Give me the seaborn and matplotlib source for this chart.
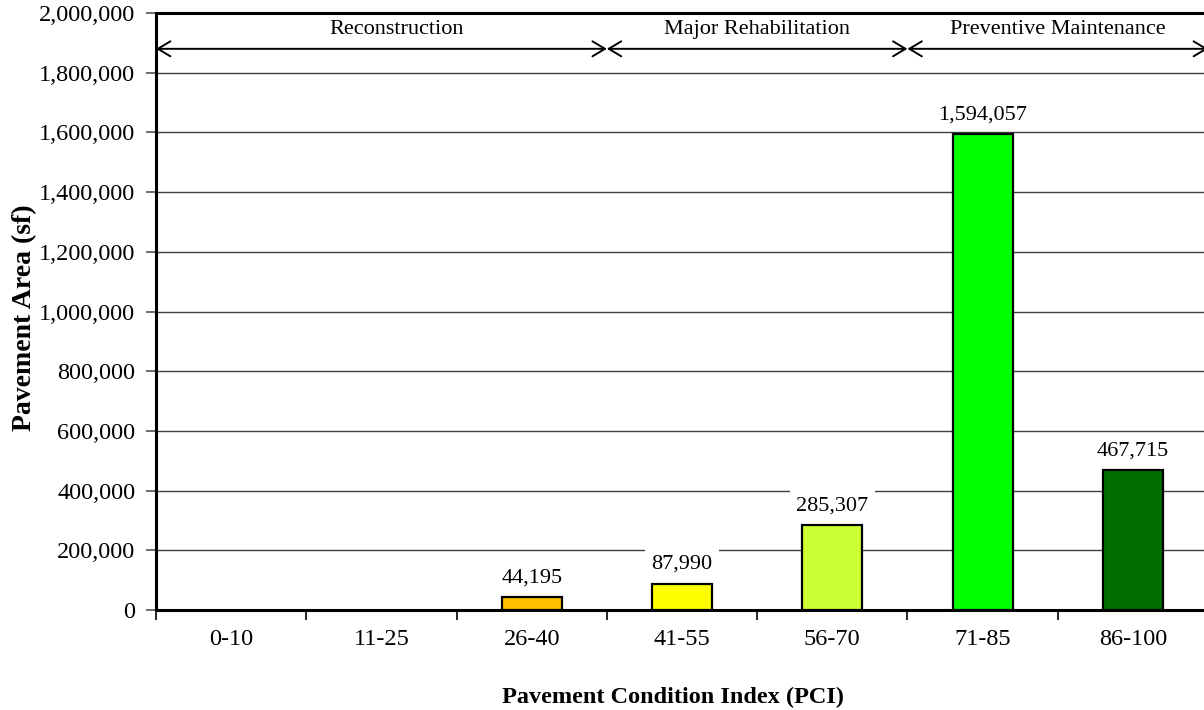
import matplotlib
matplotlib.use("Agg")
import matplotlib.pyplot as plt
import seaborn as sns

# PCI bins and pavement area per bin
categories = ["0-10", "11-25", "26-40", "41-55", "56-70", "71-85", "86-100"]
area_sf = [0, 0, 44195, 87990, 285307, 1594057, 467715]
bar_colors = ["#FF0000", "#FF6600", "#FFC000", "#FFFF00", "#CCFF33", "#00FF00", "#006F00"]

# Treatment bands across PCI bins: (label, first bin index, last bin index)
band_labels = ["Reconstruction", "Major Rehabilitation", "Preventive Maintenance"]
band_first = [0, 3, 5]
band_last = [2, 4, 6]
band_arrow_y = 1880000
band_text_y = 1945000

y_ticks = list(range(0, 2000001, 200000))

sns.set_theme(style="white")
plt.rcParams["font.family"] = ["Liberation Serif", "DejaVu Serif"]
plt.rcParams["text.color"] = "black"
plt.rcParams["axes.labelcolor"] = "black"
plt.rcParams["xtick.color"] = "black"
plt.rcParams["ytick.color"] = "black"

fig = plt.figure(figsize=(12.04, 7.10), dpi=100)
ax = fig.add_axes([156 / 1204, 1 - 610 / 710, 1052 / 1204, 597 / 710])

sns.barplot(x=categories, y=area_sf, hue=categories, palette=bar_colors,
            saturation=1, width=0.4, edgecolor="black", linewidth=1.6,
            legend=False, ax=ax, zorder=3)

# Empty bins have no visible bar
for patch, v in zip(ax.patches, area_sf):
    if v == 0:
        patch.set_visible(False)

ax.set_xlim(-0.5, len(categories) - 0.5)
ax.set_ylim(0, 2000000)

# Horizontal gridlines
ax.set_yticks(y_ticks)
ax.set_yticklabels([f"{v:,}" for v in y_ticks], fontsize=17.5)
for v in y_ticks[1:-1]:
    ax.axhline(v, color="#404040", lw=1.0, zorder=1)

# Category boundaries as ticks, names centred in each bin
bounds = [i - 0.5 for i in range(len(categories) + 1)]
ax.set_xticks(bounds)
ax.set_xticklabels([])
ax.set_xticks(range(len(categories)), minor=True)
ax.set_xticklabels(categories, minor=True, fontsize=17.5)
ax.tick_params(axis="x", which="major", direction="out", length=7, width=1.2,
               color="black", bottom=True)
ax.tick_params(axis="x", which="minor", length=0, pad=14)
ax.tick_params(axis="y", direction="out", length=7, width=1.2, color="#555555",
               left=True, pad=8)

for side in ["left", "bottom", "top"]:
    ax.spines[side].set_visible(True)
    ax.spines[side].set_color("black")
    ax.spines[side].set_linewidth(2.2)
ax.spines["right"].set_visible(False)

# Value labels above non-zero bars
for i, v in enumerate(area_sf):
    if v > 0:
        ax.annotate(f"{v:,}", xy=(i, v), xytext=(0, 7), textcoords="offset points",
                    ha="center", va="bottom", fontsize=16, zorder=4,
                    bbox=dict(boxstyle="square,pad=0.3", fc="white", ec="none"))

# Treatment band arrows and labels
label_x = [1.1, 3.5, 5.5]
for label, a, b, tx in zip(band_labels, band_first, band_last, label_x):
    x0, x1 = a - 0.5, b + 0.5
    ax.annotate("", xy=(x0, band_arrow_y), xytext=(x1, band_arrow_y),
                arrowprops=dict(arrowstyle="<->,head_length=0.75,head_width=0.45",
                                color="black", lw=1.4, shrinkA=0, shrinkB=0),
                zorder=5, annotation_clip=False)
    ax.text(tx, band_text_y, label, ha="center", va="center",
            fontsize=16, zorder=5)

ax.set_xlabel("")
ax.set_ylabel("Pavement Area (sf)", fontsize=20, fontweight="bold", labelpad=6)
ax.yaxis.set_label_coords(-119 / 1052, 0.49)
fig.text(502 / 1204, 1 - 703 / 710, "Pavement Condition Index (PCI)", ha="left",
         va="baseline", fontsize=17.5, fontweight="bold")

fig.savefig("out.png", dpi=100, facecolor="white")
